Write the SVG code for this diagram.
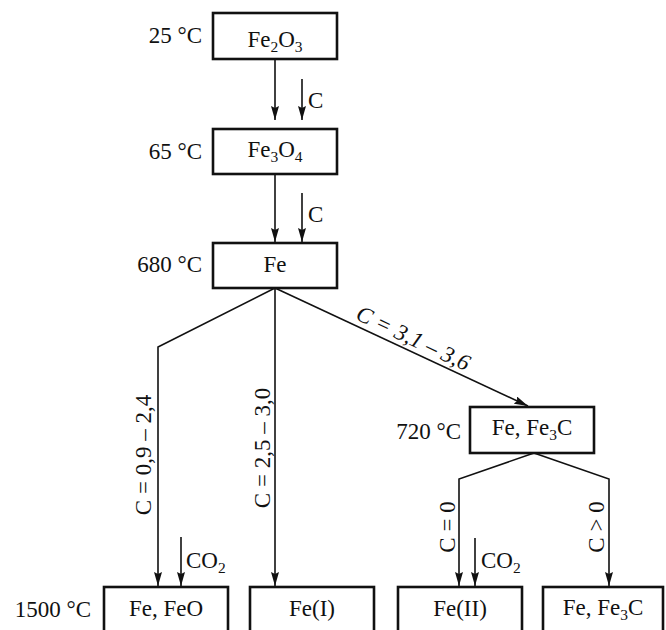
<svg xmlns="http://www.w3.org/2000/svg" width="666" height="630" viewBox="0 0 666 630">
<defs>
<style>
text{font-family:"Liberation Serif","Times New Roman",serif;font-size:23px;fill:#111}
.box{fill:#fff;stroke:#111;stroke-width:2.6}
.c{text-anchor:middle}
.r{text-anchor:end}
.ln{fill:none;stroke:#111;stroke-width:1.6}
.sub{font-size:15.5px}
</style>
<marker id="ah" viewBox="0 0 14 8" refX="14" refY="4" markerWidth="14" markerHeight="8" markerUnits="userSpaceOnUse" orient="auto">
<path d="M0,0 L14,4 L0,8 L2,4 Z" fill="#111"/>
</marker>
</defs>
<rect width="666" height="630" fill="#fff"/>
<g id="connectors">
<line class="ln" x1="275" y1="59" x2="275" y2="120" marker-end="url(#ah)"/>
<line class="ln" x1="302" y1="79" x2="302" y2="120" marker-end="url(#ah)"/>
<text x="308" y="108">C</text>
<line class="ln" x1="275" y1="174" x2="275" y2="242" marker-end="url(#ah)"/>
<line class="ln" x1="302" y1="193" x2="302" y2="242" marker-end="url(#ah)"/>
<text x="308" y="222">C</text>
<polyline class="ln" points="275,288 158,347 158,586" marker-end="url(#ah)"/>
<line class="ln" x1="275" y1="288" x2="275" y2="586" marker-end="url(#ah)"/>
<line class="ln" x1="275" y1="288" x2="528" y2="406" marker-end="url(#ah)"/>
<line class="ln" x1="181" y1="537" x2="181" y2="586" marker-end="url(#ah)"/>
<text x="186" y="568">CO<tspan class="sub" dy="5">2</tspan></text>
<polyline class="ln" points="534,453 459,479 459,586" marker-end="url(#ah)"/>
<polyline class="ln" points="534,453 609,479 609,586" marker-end="url(#ah)"/>
<line class="ln" x1="475" y1="538" x2="475" y2="586" marker-end="url(#ah)"/>
<text x="481" y="568">CO<tspan class="sub" dy="5">2</tspan></text>
<text class="c" transform="translate(151,455) rotate(-90)">C = 0,9 – 2,4</text>
<text class="c" transform="translate(270,448) rotate(-90)">C = 2,5 – 3,0</text>
<text class="c" font-style="italic" transform="translate(410,345) rotate(25.2)">C = 3,1 – 3,6</text>
<text class="c" transform="translate(455,527) rotate(-90)">C = 0</text>
<text class="c" transform="translate(604,527) rotate(-90)">C &gt; 0</text>
</g>
<g id="fe2o3">
<rect class="box" x="213" y="13" width="124" height="46"/>
<text class="c" x="275" y="46.5">Fe<tspan class="sub" dy="5">2</tspan><tspan dy="-5">O</tspan><tspan class="sub" dy="5">3</tspan></text>
<text class="r" x="202" y="43">25 °C</text>
</g>
<g id="fe3o4">
<rect class="box" x="213" y="129" width="124" height="45"/>
<text class="c" x="275" y="157">Fe<tspan class="sub" dy="5">3</tspan><tspan dy="-5">O</tspan><tspan class="sub" dy="5">4</tspan></text>
<text class="r" x="202" y="159">65 °C</text>
</g>
<g id="fe">
<rect class="box" x="213" y="243" width="124" height="45"/>
<text class="c" x="275" y="272">Fe</text>
<text class="r" x="202" y="272">680 °C</text>
</g>
<g id="fe-fe3c-720">
<rect class="box" x="470" y="407" width="124" height="46"/>
<text class="c" x="532" y="435">Fe, Fe<tspan class="sub" dy="5">3</tspan><tspan dy="-5">C</tspan></text>
<text class="r" x="461" y="439">720 °C</text>
</g>
<g id="fe-feo">
<rect class="box" x="104" y="587" width="124" height="60"/>
<text class="c" x="166" y="616">Fe, FeO</text>
<text class="r" x="91" y="617">1500 °C</text>
</g>
<g id="fe-i">
<rect class="box" x="250" y="587" width="124" height="60"/>
<text class="c" x="312" y="616">Fe(I)</text>
</g>
<g id="fe-ii">
<rect class="box" x="398" y="587" width="124" height="60"/>
<text class="c" x="460" y="616">Fe(II)</text>
</g>
<g id="fe-fe3c-bottom">
<rect class="box" x="543" y="587" width="120" height="60"/>
<text class="c" x="603" y="615">Fe, Fe<tspan class="sub" dy="5">3</tspan><tspan dy="-5">C</tspan></text>
</g>
</svg>
